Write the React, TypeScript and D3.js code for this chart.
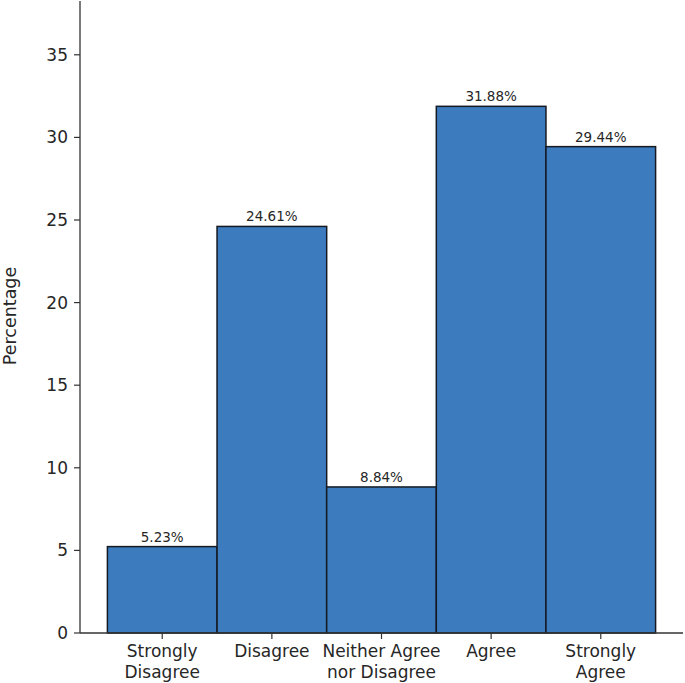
import * as d3 from 'd3'

const categories = [
  ['Strongly', 'Disagree'],
  ['Disagree'],
  ['Neither Agree', 'nor Disagree'],
  ['Agree'],
  ['Strongly', 'Agree'],
]
const percentages = [5.23, 24.61, 8.84, 31.88, 29.44]
const yTicks = [0, 5, 10, 15, 20, 25, 30, 35]

const width = 685
const height = 683
const margin = { left: 80, right: 2, top: 1, bottom: 50 }
const font = 'DejaVu Sans, sans-serif'
const textColor = '#262626'

export default function App() {
  const x = d3
    .scaleLinear()
    .domain([-0.75, categories.length - 0.25])
    .range([margin.left, width - margin.right])
  const y = d3
    .scaleLinear()
    .domain([0, d3.max(percentages)! * 1.2])
    .range([height - margin.bottom, margin.top])

  const y0 = y(0)

  return (
    <svg
      width={width}
      height={height}
      style={{ position: 'absolute', left: 0, top: 0, background: 'white' }}
      fontFamily={font}
    >
      {percentages.map((v, i) => (
        <g key={i}>
          <rect
            x={x(i - 0.5)}
            y={y(v)}
            width={x(i + 0.5) - x(i - 0.5)}
            height={y0 - y(v)}
            fill="#3d7bbf"
            stroke="#141a22"
            strokeWidth={1.5}
          />
          <text
            x={x(i)}
            y={y(v) - 5}
            textAnchor="middle"
            fontSize={13.5}
            fill={textColor}
          >
            {v.toFixed(2)}%
          </text>
        </g>
      ))}

      {/* y axis */}
      <line x1={margin.left} x2={margin.left} y1={margin.top} y2={y0} stroke="#333" strokeWidth={1.3} />
      {yTicks.map((t) => (
        <g key={t}>
          <line x1={margin.left - 6} x2={margin.left} y1={y(t)} y2={y(t)} stroke="#333" strokeWidth={1.2} />
          <text
            x={margin.left - 12}
            y={y(t)}
            dy="0.35em"
            textAnchor="end"
            fontSize={17}
            fill={textColor}
          >
            {t}
          </text>
        </g>
      ))}

      {/* x axis */}
      <line x1={margin.left} x2={width - margin.right} y1={y0} y2={y0} stroke="#333" strokeWidth={1.3} />
      {categories.map((lines, i) => (
        <g key={i}>
          <line x1={x(i)} x2={x(i)} y1={y0} y2={y0 + 6} stroke="#333" strokeWidth={1.2} />
          <text x={x(i)} y={y0 + 24} textAnchor="middle" fontSize={17} fill={textColor}>
            {lines.map((l, j) => (
              <tspan key={j} x={x(i)} dy={j === 0 ? 0 : 20.5}>
                {l}
              </tspan>
            ))}
          </text>
        </g>
      ))}

      <text
        transform={`translate(16, ${(y0 + margin.top) / 2 - 1}) rotate(-90)`}
        textAnchor="middle"
        fontSize={17.5}
        fill={textColor}
      >
        Percentage
      </text>
    </svg>
  )
}
